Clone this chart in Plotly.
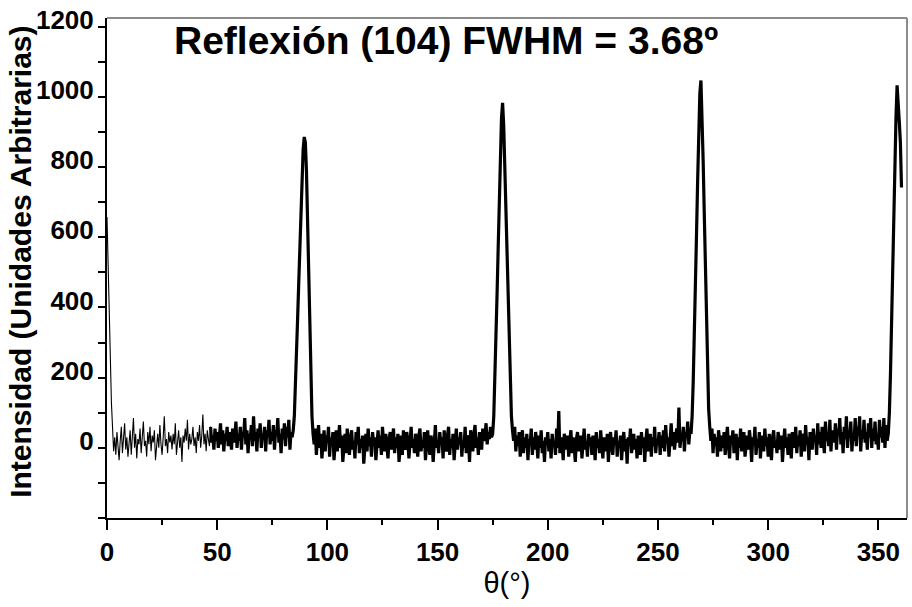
import numpy as np
import plotly.graph_objects as go

# Sampling step of the scan (degrees)
THETA_STEP = 0.5

# Intensity readings, one row per 10 degrees (20 samples of 0.5 deg)
INTENSITY = [
    658, 500, 340, 240, 130, 60, -10, 30, -20, 45, 5, -35, 20, 60, -15, 25, 70, -5, 30, -25,          # 0
    15, 50, -20, 35, 85, 0, 40, -30, 25, 10, 55, -15, 30, 75, 5, 20, -25, 45, 10, 60,                 # 10
    -10, 35, 15, 50, -35, 20, 40, 0, 65, 10, -20, 30, 90, 5, 25, -15, 45, 15, 35, -5,                 # 20
    40, 10, 70, -20, 25, 50, 0, 30, -40, 35, 15, 55, 20, 80, -5, 40, 10, 25, 60, 5,                   # 30
    30, -15, 45, 20, 65, 0, 35, 95, 10, 40, -10, 50, 25, 5, 60, 15, 35, -5, 55, 20,                   # 40
    45, 0, 30, 70, 10, 50, -10, 40, 20, 60, 5, 45, 25, -5, 55, 15, 35, 75, 0, 40,                     # 50
    20, 60, -5, 45, 30, 85, 10, 50, -15, 40, 25, 65, 5, 90, 20, 45, -10, 55, 30, 70,                  # 60
    0, 40, 25, 60, -10, 50, 30, 80, 10, 45, 20, 65, -5, 50, 35, 85, 15, 40, -15, 55,                  # 70
    25, 70, 5, 60, 30, 80, -5, 45, 30, 50, 90, 170, 270, 370, 470, 570, 670, 760, 850, 886,           # 80
    870, 790, 650, 510, 350, 200, 90, 40, 10, 55, -20, 30, 65, 0, 40, -30, 20, 50, -10, 35,           # 90
    15, 60, -25, 30, 5, 45, -35, 20, 50, -10, 25, 65, 0, 35, -40, 15, 40, -15, 55, 10,                # 100
    -20, 30, 50, -5, 20, -30, 45, 10, 60, -15, 25, 0, 35, -45, 20, 40, -10, 55, 5, 30,                # 110
    -25, 45, 10, 30, -35, 20, 50, 0, 35, -20, 60, 15, -10, 40, 5, -30, 25, 45, -5, 20,                # 120
    55, -15, 30, 0, 40, -40, 15, 35, -20, 50, 10, -5, 45, 20, -30, 30, 60, 0, 25, -15,                # 130
    40, 10, -25, 35, 55, -10, 20, 0, 45, -35, 25, 50, 5, -20, 35, 15, -40, 30, 65, 0,                 # 140
    20, -15, 45, 10, 30, -30, 50, 5, -10, 35, 60, -20, 25, 0, 40, -35, 15, 55, -5, 30,                # 150
    10, 45, -25, 20, 0, 60, -15, 35, 25, -40, 50, 10, -10, 40, 65, 0, 30, -20, 45, 15,                # 160
    -5, 55, 20, 35, 70, 10, 45, 25, 60, 30, 40, 90, 190, 310, 440, 570, 700, 830, 940, 983,           # 170
    920, 800, 670, 530, 400, 270, 160, 90, 50, 20, 60, -10, 35, 5, 45, -25, 20, 50, -15, 30,          # 180
    0, 40, -35, 25, 10, 55, -20, 30, -5, 45, 15, -30, 35, 0, 50, -15, 20, -40, 30, 10,                # 190
    45, -10, 25, -30, 40, 5, 20, -20, 55, 0, 105, -15, 30, 10, -35, 40, 15, -5, 35, -25,              # 200
    20, 50, -15, 30, 0, -40, 25, 45, -10, 15, 35, -30, 10, 55, -5, 20, -25, 40, 5, 30,                # 210
    -20, 35, 10, -35, 45, 0, 25, -15, 50, 5, -30, 30, 15, -10, 40, -40, 20, 45, 0, -20,               # 220
    30, 10, 50, -25, 20, 0, 35, -35, 15, 45, -10, 25, -45, 30, 5, 55, -15, 20, 40, -5,                # 230
    25, -30, 35, 10, -20, 45, 0, 30, -40, 20, 55, -10, 15, 40, -25, 30, 5, 60, -15, 25,               # 240
    10, 45, -20, 35, 0, 50, -10, 65, 15, 30, -25, 40, 70, 5, 45, -5, 30, 55, 15, 115,                 # 250
    0, 35, 20, 60, -10, 45, 30, 75, 10, 50, 40, 90, 190, 310, 460, 610, 760, 900, 1010, 1047,         # 260
    960, 820, 670, 510, 360, 220, 110, 60, 20, 55, -15, 40, 5, 30, -25, 50, 10, -10, 35, 0,           # 270
    45, -20, 25, 60, 5, -30, 35, 15, 50, -15, 20, 40, -35, 30, 0, 55, -10, 25, 45, -25,               # 280
    15, 35, -5, 50, 20, -40, 30, 10, 60, -20, 25, 0, 45, -30, 35, 15, -10, 55, 5, 30,                 # 290
    -25, 40, 10, -35, 30, 50, 0, 20, -15, 45, 25, -5, 35, -40, 15, 55, 0, 30, -20, 40,                # 300
    10, -30, 45, 20, 0, 60, -15, 35, 5, 50, -25, 25, 40, -10, 65, 10, 30, -35, 45, 15,                # 310
    -5, 55, 20, 35, -20, 70, 10, 45, 0, 60, 25, -15, 75, 20, 40, 5, 80, -10, 50, 30,                  # 320
    15, 70, -5, 55, 35, 85, 10, 45, -15, 60, 25, 90, 0, 50, 30, 75, -10, 40, 20, 85,                  # 330
    5, 60, 35, 90, -10, 50, 25, 80, 15, 45, -5, 70, 30, 85, 0, 55, 20, 75, 10, 40,                    # 340
    -5, 80, 30, 60, 15, 85, 0, 65, 20, 40, 100, 210, 370, 530, 690, 840, 940, 1033, 990, 930,         # 350
    870, 742,                                                                                          # 360
]

THETA = np.arange(len(INTENSITY)) * THETA_STEP
INTENSITY = np.array(INTENSITY, dtype=float)

# First part of the scan drawn with a thinner line
THIN_END = 47.0

Y_TICKS = [-200, 0, 200, 400, 600, 800, 1000, 1200]
Y_TICK_TEXT = ["", "0", "200", "400", "600", "800", "1000", "1200"]
X_TICKS = [0, 50, 100, 150, 200, 250, 300, 350]

TITLE = "Reflexión (104) FWHM = 3.68º"
X_TITLE = "θ(°)"
Y_TITLE = "Intensidad (Unidades Arbitrarias)"

FONT = "Liberation Sans, Arial, sans-serif"

thin = THETA <= THIN_END
thick = THETA >= THIN_END

fig = go.Figure()
fig.add_trace(go.Scatter(x=THETA[thin], y=INTENSITY[thin], mode="lines",
                         line=dict(color="black", width=1.1), showlegend=False))
fig.add_trace(go.Scatter(x=THETA[thick], y=INTENSITY[thick], mode="lines",
                         line=dict(color="black", width=3.2), showlegend=False))

fig.update_layout(
    width=912, height=607,
    margin=dict(l=107, r=5, t=8, b=89),
    paper_bgcolor="white", plot_bgcolor="white",
    font=dict(family=FONT, color="black"),
    showlegend=False,
)

fig.update_xaxes(
    range=[0, 363], showgrid=False, zeroline=False,
    showline=True, linecolor="black", linewidth=2,
    ticks="outside", ticklen=10, tickwidth=1.5, tickcolor="black",
    tickvals=X_TICKS,
    tickfont=dict(size=26, family=FONT, weight="bold"),
    minor=dict(dtick=25, tick0=0, ticks="outside", ticklen=5, tickwidth=1.5, tickcolor="black"),
    title=dict(text=X_TITLE, font=dict(size=29, family=FONT), standoff=6),
)
fig.update_yaxes(
    range=[-200, 1225], showgrid=False, zeroline=False,
    showline=True, linecolor="black", linewidth=2,
    ticks="outside", ticklen=7, tickwidth=1.5, tickcolor="black",
    tickvals=Y_TICKS, ticktext=Y_TICK_TEXT,
    tickfont=dict(size=26, family=FONT, weight="bold"),
    ticklabelshift=-7, ticklabelstandoff=-1, ticklabeloverflow="allow",
    minor=dict(dtick=100, tick0=0, ticks="outside", ticklen=7, tickwidth=1.5, tickcolor="black"),
)

# light frame on top and right
fig.add_shape(type="line", xref="paper", yref="paper", x0=0, x1=1, y0=1, y1=1,
              line=dict(color="#8c8c8c", width=2))
fig.add_shape(type="line", xref="paper", yref="paper", x0=1, x1=1, y0=0, y1=1,
              line=dict(color="#8c8c8c", width=2))

# y-axis title
fig.add_annotation(text=Y_TITLE, xref="paper", yref="paper", x=-0.109, y=0.512,
                   xanchor="center", yanchor="middle", textangle=-90, showarrow=False,
                   font=dict(size=30, family=FONT, weight="bold", color="black"))

fig.add_annotation(text=TITLE, xref="paper", yref="paper", x=0.424, y=0.955,
                   xanchor="center", yanchor="middle", showarrow=False,
                   font=dict(size=39, family=FONT, weight="bold", color="black"))

fig.write_html("out.html")
